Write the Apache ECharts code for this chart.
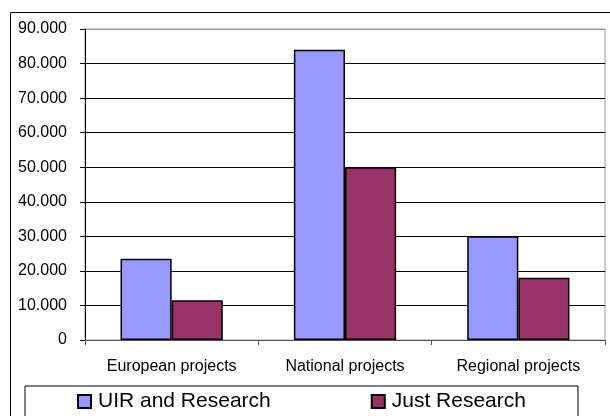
<!DOCTYPE html>
<html>
<head>
<meta charset="utf-8">
<script src="https://cdn.jsdelivr.net/npm/echarts@6/dist/echarts.min.js"></script>
<style>
  html, body { margin: 0; padding: 0; background: #fff; }
  #chart { width: 610px; height: 416px; }
</style>
</head>
<body>
<div id="chart"></div>
<script>
// data
const categories = ['European projects', 'National projects', 'Regional projects']
const uirResearch = [23500, 84000, 30000]
const justResearch = [11500, 50000, 18000]
const seriesNames = ['UIR and Research', 'Just Research']

const fmt = (v) => String(v).replace(/\B(?=(\d{3})+(?!\d))/g, '.')
const font = 'Liberation Sans, Arial, sans-serif'

// gridlines black, the top one (plot border) gray
const splitColors = ['#000', '#000', '#000', '#000', '#000', '#000', '#000', '#000', '#000', '#999']

const myChart = echarts.init(document.getElementById('chart'))

const option = {
    animation: false,
    textStyle: { fontFamily: font },
    graphic: [
        {
            type: 'rect',
            shape: { x: 10.5, y: 12.5, width: 620, height: 420 },
            style: { fill: 'none', stroke: '#000', lineWidth: 1 },
            z: -1
        }
    ],
    grid: {
        left: 85, right: 5, top: 29, bottom: 76,
        show: true, borderColor: '#999', borderWidth: 1
    },
    legend: {
        data: seriesNames,
        left: 25,
        top: 386,
        itemWidth: 13,
        itemHeight: 13,
        itemGap: 100,
        padding: [5, 52, 8, 52],
        borderColor: '#000',
        borderWidth: 1,
        icon: 'rect',
        textStyle: { fontSize: 21, color: '#000', fontFamily: font, padding: [0, 0, 0, 2] }
    },
    xAxis: {
        type: 'category',
        data: categories,
        axisLine: { lineStyle: { color: '#555', width: 1 } },
        axisTick: { show: true, length: 5, lineStyle: { color: '#555' } },
        axisLabel: { fontSize: 16, color: '#000', margin: 19 }
    },
    yAxis: {
        type: 'value',
        min: 0,
        max: 90000,
        interval: 10000,
        axisLine: { show: true, lineStyle: { color: '#000', width: 1 } },
        axisTick: { show: true, length: 5, lineStyle: { color: '#000' } },
        axisLabel: { fontSize: 16, color: '#000', margin: 18, formatter: fmt },
        splitLine: { lineStyle: { color: splitColors, width: 1 } }
    },
    series: [
        {
            name: seriesNames[0],
            type: 'bar',
            data: uirResearch,
            barGap: '0%',
            barCategoryGap: '41%',
            itemStyle: { color: '#9999FF', borderColor: '#000', borderWidth: 1.5 }
        },
        {
            name: seriesNames[1],
            type: 'bar',
            data: justResearch,
            itemStyle: { color: '#993366', borderColor: '#000', borderWidth: 1.5 }
        }
    ]
}

myChart.setOption(option)
</script>
</body>
</html>
